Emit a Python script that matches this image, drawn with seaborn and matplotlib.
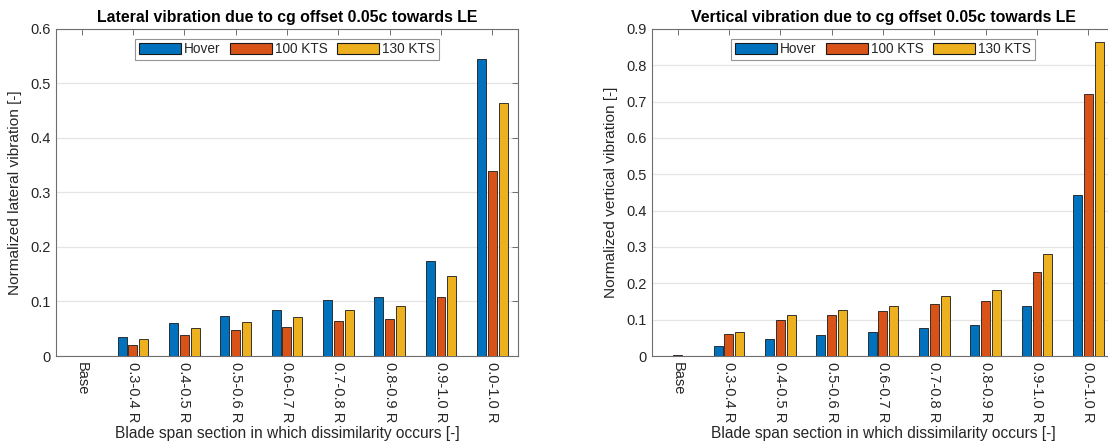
import numpy as np
import pandas as pd
import seaborn as sns
import matplotlib
matplotlib.use("Agg")
import matplotlib.pyplot as plt

# Blade span sections and flight conditions
sections = ["Base", "0.3-0.4 R", "0.4-0.5 R", "0.5-0.6 R", "0.6-0.7 R",
            "0.7-0.8 R", "0.8-0.9 R", "0.9-1.0 R", "0.0-1.0 R"]
conditions = ["Hover", "100 KTS", "130 KTS"]
colors = ["#0072BD", "#D95319", "#EDB120"]

# Normalized lateral vibration
lat_hover = [0.0, 0.035, 0.060, 0.073, 0.084, 0.102, 0.109, 0.175, 0.545]
lat_100 = [0.0, 0.021, 0.038, 0.047, 0.053, 0.064, 0.068, 0.109, 0.339]
lat_130 = [0.0, 0.031, 0.052, 0.063, 0.071, 0.084, 0.091, 0.146, 0.464]

# Normalized vertical vibration
ver_hover = [0.0, 0.027, 0.046, 0.057, 0.065, 0.078, 0.085, 0.137, 0.444]
ver_100 = [0.002, 0.061, 0.098, 0.114, 0.123, 0.143, 0.150, 0.231, 0.721]
ver_130 = [0.0, 0.066, 0.112, 0.126, 0.137, 0.164, 0.181, 0.280, 0.864]

lateral_ticks = [0, 0.1, 0.2, 0.3, 0.4, 0.5, 0.6]
vertical_ticks = [0, 0.1, 0.2, 0.3, 0.4, 0.5, 0.6, 0.7, 0.8, 0.9]


def long_form(hover, kts100, kts130):
    rows = []
    for cond, vals in zip(conditions, [hover, kts100, kts130]):
        for sec, v in zip(sections, vals):
            rows.append({"section": sec, "condition": cond, "value": v})
    return pd.DataFrame(rows)


sns.set_theme(style="white")
plt.rcParams["font.family"] = ["Liberation Sans", "DejaVu Sans"]

fig = plt.figure(figsize=(11.08, 4.45), dpi=100)
ax_lat = fig.add_axes([0.0505, 0.2, 0.417, 0.735])
ax_ver = fig.add_axes([0.5884, 0.2, 0.417, 0.735])

text_col = "#262626"
spine_col = "#6e6e6e"

panels = [
    (ax_lat, long_form(lat_hover, lat_100, lat_130), lateral_ticks,
     "Lateral vibration due to cg offset 0.05c towards LE",
     "Normalized lateral vibration [-]"),
    (ax_ver, long_form(ver_hover, ver_100, ver_130), vertical_ticks,
     "Vertical vibration due to cg offset 0.05c towards LE",
     "Normalized vertical vibration [-]"),
]

for ax, df, yticks, title, ylabel in panels:
    sns.barplot(data=df, x="section", y="value", hue="condition",
                order=sections, hue_order=conditions, palette=colors,
                width=0.63, gap=0.17, edgecolor="#1a1a1a", linewidth=0.6,
                errorbar=None, saturation=1, ax=ax, zorder=3)
    ax.set_xlim(-0.5, len(sections) - 0.5)
    ax.set_ylim(yticks[0], yticks[-1])
    ax.set_yticks(yticks)
    ax.set_yticklabels([f"{t:g}" for t in yticks], fontsize=10.5, color=text_col)
    ax.set_xticks(range(len(sections)))
    ax.set_xticklabels(sections, rotation=-90, fontsize=10.5, color=text_col,
                       va="top", ha="center")
    ax.yaxis.grid(True, color="#e4e4e4", linewidth=0.9, zorder=0)
    ax.xaxis.grid(False)
    ax.set_axisbelow(True)
    ax.tick_params(axis="both", direction="in", length=4, width=0.7,
                   color=spine_col, top=True, right=True, pad=4)
    for s in ax.spines.values():
        s.set_color(spine_col)
        s.set_linewidth(0.8)
    ax.set_title(title, fontsize=11.4, fontweight="bold", color="black", pad=5)
    ax.set_xlabel("Blade span section in which dissimilarity occurs [-]",
                  fontsize=11.2, color=text_col, labelpad=3)
    ax.set_ylabel(ylabel, fontsize=11.1, color=text_col, labelpad=6)
    leg = ax.legend(loc="upper center", bbox_to_anchor=(0.5, 0.97), ncol=3,
                    fontsize=9.8, frameon=True, fancybox=False,
                    handlelength=3.1, handleheight=0.85, handletextpad=0.25,
                    columnspacing=0.65, borderpad=0.25, borderaxespad=0.0)
    leg.get_frame().set_edgecolor("#7a7a7a")
    leg.get_frame().set_linewidth(0.8)
    for h in leg.legend_handles:
        h.set_edgecolor("#1a1a1a")
        h.set_linewidth(0.8)

fig.savefig("out.png", dpi=100)
